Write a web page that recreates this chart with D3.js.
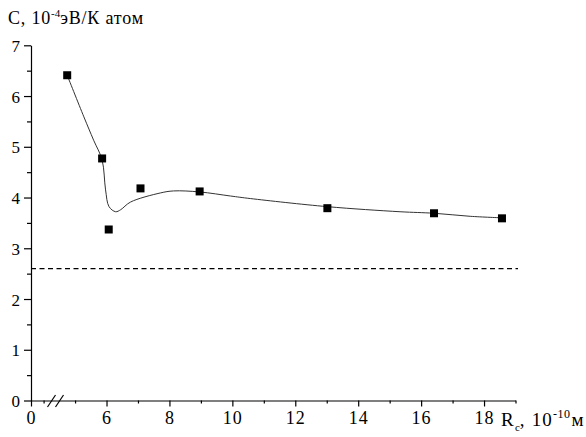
<!DOCTYPE html>
<html>
<head>
<meta charset="utf-8">
<script src="https://cdn.jsdelivr.net/npm/d3@7"></script>
<style>
  html, body { margin: 0; padding: 0; background: #fff; }
  svg { display: block; }
</style>
</head>
<body>
<svg id="chart" width="586" height="437" font-family="Liberation Serif"></svg>
<script>
// Measured specific heat values C (10^-4 eV/K·atom) against radius Rc (10^-10 m)
const rc = [4.75, 5.86, 6.07, 7.08, 8.96, 13.02, 16.41, 18.57];
const cVal = [6.41, 4.77, 3.37, 4.18, 4.12, 3.79, 3.69, 3.59];

// Smoothed trend curve knots
const fitX = [4.75, 5.28, 5.59, 5.86, 5.97, 6.08, 6.29, 6.45, 6.76, 7.71, 8.13, 8.96, 9.94, 10.57, 13.02, 15.33, 16.41, 17.56, 18.57];
const fitY = [6.41, 5.59, 5.13, 4.74, 4.15, 3.82, 3.72, 3.76, 3.91, 4.09, 4.13, 4.11, 4.03, 3.98, 3.82, 3.72, 3.69, 3.63, 3.60];

// Reference level (dashed line)
const refLevel = 2.6;

// Tick values
const xMajor = [0, 6, 8, 10, 12, 14, 16, 18];
const xMinor = [4, 5, 7, 9, 11, 13, 15, 17, 19];
const yMajor = [0, 1, 2, 3, 4, 5, 6, 7];
const yMinor = [0.5, 1.5, 2.5, 3.5, 4.5, 5.5, 6.5];

const FONT = "Liberation Serif";

const svg = d3.select("#chart");
svg.append("rect").attr("width", 586).attr("height", 437).attr("fill", "#fff");

// Broken x scale: 0 sits at the axis start, the range 0..4 is collapsed
const x = d3.scaleLinear().domain([0, 4, 19]).range([31, 43.6, 515.5]);
const y = d3.scaleLinear().domain([0, 7]).range([400.5, 45.3]);

// Y axis
const yAxisG = svg.append("g").attr("transform", "translate(31,0)");
yAxisG.call(d3.axisLeft(y).tickValues(yMajor).tickSize(7).tickSizeOuter(0).tickPadding(4).tickFormat(d3.format("d")));
yAxisG.append("g").call(d3.axisLeft(y).tickValues(yMinor).tickSize(4).tickFormat(""))
  .select(".domain").remove();
yAxisG.attr("font-family", FONT).attr("font-size", 17);
yAxisG.selectAll(".tick text").attr("font-family", FONT).attr("font-size", 17).attr("fill", "#000").attr("dy", "0.36em");

// X axis
const xAxisG = svg.append("g").attr("transform", "translate(0,400.5)");
xAxisG.call(d3.axisBottom(x).tickValues(xMajor).tickSize(6).tickSizeOuter(0).tickPadding(5).tickFormat(d3.format("d")));
xAxisG.append("g").call(d3.axisBottom(x).tickValues(xMinor).tickSize(3).tickFormat(""))
  .select(".domain").remove();
xAxisG.attr("font-family", FONT).attr("font-size", 18);
xAxisG.selectAll(".tick text").attr("font-family", FONT).attr("font-size", 18).attr("fill", "#000")
  .attr("letter-spacing", 1);

svg.selectAll(".domain, .tick line").attr("stroke", "#000").attr("stroke-width", 1.2);

// Axis break marks
const brk = svg.append("g").attr("stroke", "#000").attr("stroke-width", 1.2);
[47.5, 55.5].forEach(x0 => {
  brk.append("line").attr("x1", x0).attr("y1", 407).attr("x2", x0 + 8).attr("y2", 395);
});

// Dashed reference line
svg.append("line")
  .attr("x1", x(0)).attr("x2", x(19) + 2.5)
  .attr("y1", y(refLevel)).attr("y2", y(refLevel))
  .attr("stroke", "#000").attr("stroke-width", 1.2)
  .attr("stroke-dasharray", "5,3.5");

// Trend curve
const fitPts = fitX.map((v, i) => [v, fitY[i]]);
svg.append("path")
  .datum(fitPts)
  .attr("fill", "none")
  .attr("stroke", "#333")
  .attr("stroke-width", 1)
  .attr("d", d3.line().x(d => x(d[0])).y(d => y(d[1])).curve(d3.curveCatmullRom.alpha(0.5)));

// Data markers
const sz = 8;
svg.append("g").selectAll("rect")
  .data(rc.map((v, i) => [v, cVal[i]]))
  .join("rect")
  .attr("x", d => x(d[0]) - sz / 2)
  .attr("y", d => y(d[1]) - sz / 2)
  .attr("width", sz).attr("height", sz)
  .attr("fill", "#000");

// Y axis title
const yt = svg.append("text").attr("x", 8).attr("y", 24)
  .attr("font-family", FONT).attr("font-size", 18).attr("fill", "#000")
  .attr("letter-spacing", 0.8);
yt.append("tspan").text("C, 10");
yt.append("tspan").attr("dy", -7).attr("font-size", 11).attr("letter-spacing", 0).text("-4");
yt.append("tspan").attr("dy", 7).text("эВ/К атом");

// X axis title
const xt = svg.append("text").attr("x", 501).attr("y", 426)
  .attr("font-family", FONT).attr("font-size", 19).attr("fill", "#000")
  .attr("letter-spacing", 1.2);
xt.append("tspan").text("R");
xt.append("tspan").attr("dy", 5).attr("font-size", 11).attr("letter-spacing", 0).text("c");
xt.append("tspan").attr("dy", -5).text(", 10");
xt.append("tspan").attr("dy", -8).attr("font-size", 12).attr("letter-spacing", 0.5).text("-10");
xt.append("tspan").attr("dy", 8).attr("dx", 1).text("м");
</script>
</body>
</html>
